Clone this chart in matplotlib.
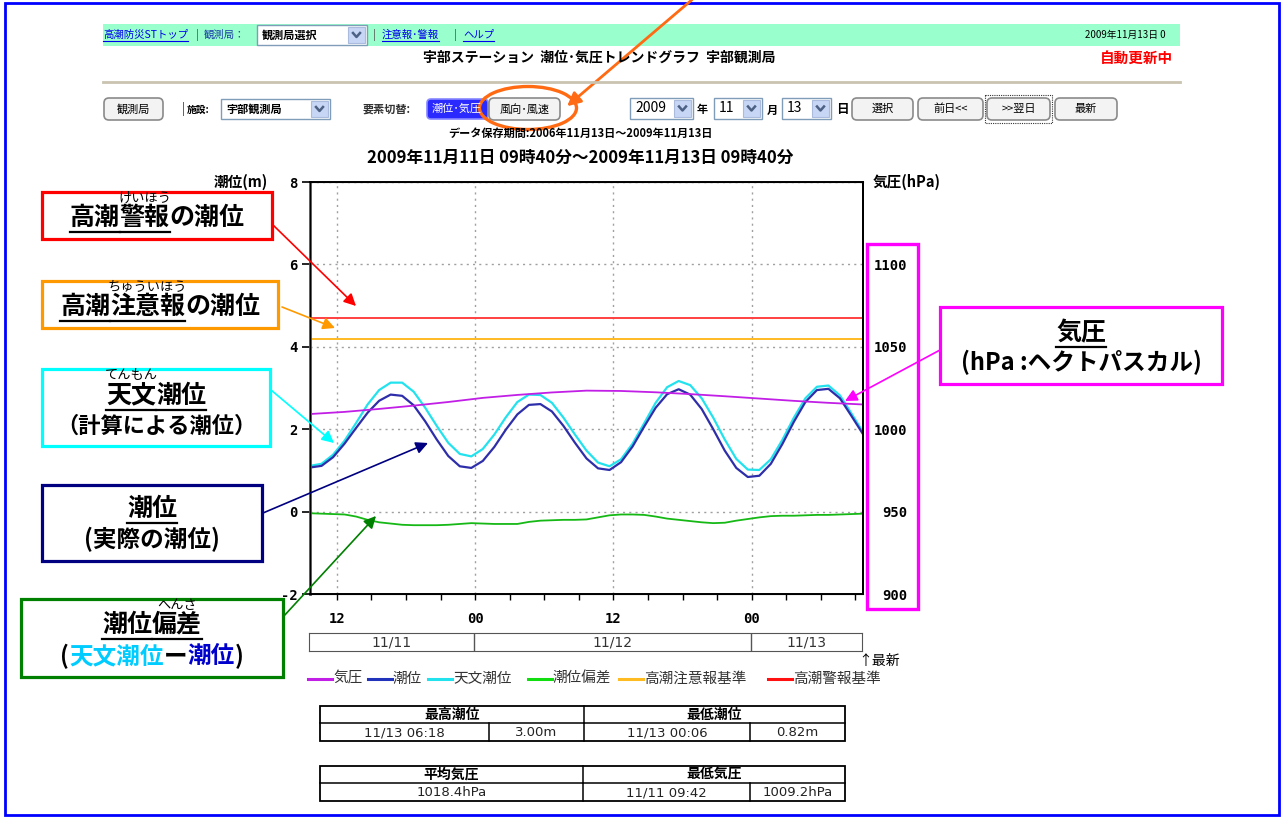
import matplotlib
matplotlib.use('Agg')
import matplotlib.pyplot as plt
import matplotlib.dates as mdates
import pandas as pd
from matplotlib.patches import Rectangle, FancyBboxPatch, Ellipse, FancyArrowPatch

plt.rcParams['font.family'] = ['Noto Sans CJK JP', 'DejaVu Sans']
plt.rcParams['axes.unicode_minus'] = False

W, H = 1282, 818

# ── Donnees ──────────────────────────────────────────────────
start = pd.Timestamp('2009-11-11 09:40')
end   = pd.Timestamp('2009-11-13 09:40')
times = pd.date_range(start, end, freq='h')          # pas horaire

tide = [1.07, 1.11, 1.32, 1.65, 2.03, 2.40, 2.69, 2.84, 2.81, 2.58,
        2.19, 1.75, 1.35, 1.10, 1.06, 1.23, 1.57, 1.99, 2.36, 2.59,
        2.61, 2.43, 2.08, 1.67, 1.29, 1.05, 1.01, 1.20, 1.58, 2.06,
        2.52, 2.85, 2.97, 2.84, 2.49, 2.00, 1.48, 1.06, 0.84, 0.87,
        1.16, 1.64, 2.18, 2.66, 2.95, 2.98, 2.75, 2.32, 1.88]
astro = [1.11, 1.16, 1.38, 1.72, 2.15, 2.60, 2.95, 3.13, 3.13, 2.91,
         2.52, 2.08, 1.67, 1.40, 1.34, 1.52, 1.87, 2.29, 2.66, 2.84,
         2.83, 2.64, 2.28, 1.87, 1.48, 1.19, 1.10, 1.27, 1.65, 2.14,
         2.64, 3.02, 3.17, 3.07, 2.75, 2.28, 1.75, 1.28, 1.02, 1.01,
         1.27, 1.74, 2.28, 2.75, 3.03, 3.06, 2.82, 2.38, 1.93]
deviation = [-0.04, -0.05, -0.06, -0.07, -0.12, -0.20, -0.26, -0.29, -0.32, -0.33,
             -0.33, -0.33, -0.32, -0.30, -0.28, -0.29, -0.30, -0.30, -0.30, -0.25,
             -0.22, -0.21, -0.20, -0.20, -0.19, -0.14, -0.09, -0.07, -0.07, -0.08,
             -0.12, -0.17, -0.20, -0.23, -0.26, -0.28, -0.27, -0.22, -0.18, -0.14,
             -0.11, -0.10, -0.10, -0.09, -0.08, -0.08, -0.07, -0.06, -0.05]

p_times  = pd.date_range(start, end, freq='3h')
pressure = [1009.2, 1010.5, 1012.3, 1014.3, 1016.5, 1019.0, 1020.8, 1022.3, 1023.4,
            1023.2, 1022.4, 1021.3, 1020.0, 1018.6, 1017.2, 1016.0, 1015.0]

warning_level  = 4.7
advisory_level = 4.2

day_labels = ['11/11', '11/12', '11/13']
day_edges  = [start, pd.Timestamp('2009-11-12'), pd.Timestamp('2009-11-13'), end]

legend_labels = ['気圧', '潮位', '天文潮位', '潮位偏差', '高潮注意報基準', '高潮警報基準']

stats_head1 = ['最高潮位', '最低潮位']
stats_row1  = ['11/13 06:18', '3.00m', '11/13 00:06', '0.82m']
stats_head2 = ['平均気圧', '最低気圧']
stats_row2  = ['1018.4hPa', '11/11 09:42', '1009.2hPa']

C_PRES, C_TIDE, C_ASTRO, C_DEV = '#c21fe6', '#2e2eaa', '#22e2ee', '#16b816'
C_ADV, C_WARN = '#ffbb22', '#ff4040'


def fx(x):  return x / W
def fy(y):  return 1 - y / H


fig = plt.figure(figsize=(W / 100, H / 100), dpi=100)

# ── Graphique principal ──────────────────────────────────────
ax = fig.add_axes([fx(310), fy(594), 553 / W, 412 / H])
ax.plot(times, deviation, color=C_DEV, lw=1.3)
ax.plot(times, astro, color=C_ASTRO, lw=1.6)
ax.plot(times, tide, color=C_TIDE, lw=1.6)
ax.axhline(warning_level, color=C_WARN, lw=1.4)
ax.axhline(advisory_level, color=C_ADV, lw=1.4)

ax.set_xlim(start, end)
ax.set_ylim(-2, 8)
ax.set_yticks(range(-2, 9, 2))
ax.xaxis.set_major_locator(mdates.HourLocator(byhour=[0, 12]))
ax.xaxis.set_major_formatter(mdates.DateFormatter('%H'))
ax.xaxis.set_minor_locator(mdates.HourLocator(byhour=range(0, 24, 3)))
ax.grid(True, color='#a0a0a0', ls=(0, (1.5, 3)), lw=1)
ax.tick_params(axis='y', direction='out', length=6, width=1.2, pad=3, labelsize=10)
ax.tick_params(axis='x', which='both', direction='out', length=4, width=1, pad=9, labelsize=10)
for lab in ax.get_xticklabels() + ax.get_yticklabels():
    lab.set_fontfamily('DejaVu Sans Mono')
    lab.set_fontweight('bold')
for s in ['top', 'right', 'bottom']:
    ax.spines[s].set_linewidth(1.4)
ax.spines['left'].set_color('#555555')
ax.spines['left'].set_linewidth(2)

ax2 = ax.twinx()
ax2.plot(p_times, pressure, color=C_PRES, lw=1.3)
ax2.set_ylim(900, 1150)
ax2.set_yticks([900, 950, 1000, 1050, 1100])
ax2.tick_params(axis='y', length=0, pad=32, labelsize=10)
for lab in ax2.get_yticklabels():
    lab.set_ha('right')
    lab.set_fontfamily('DejaVu Sans Mono')
    lab.set_fontweight('bold')
ax2.spines['right'].set_linewidth(1.4)

# ── Barre des dates ──────────────────────────────────────────
dax = fig.add_axes([fx(309), fy(651), 553 / W, 18 / H])
dax.set_xlim(start, end)
dax.set_ylim(0, 1)
dax.set_xticks([])
dax.set_yticks([])
for s in dax.spines.values():
    s.set_color('#555555')
for edge in day_edges[1:-1]:
    dax.axvline(edge, color='#555555', lw=1)
for lab, a, b in zip(day_labels, day_edges[:-1], day_edges[1:]):
    dax.text(a + (b - a) / 2, 0.5, lab, ha='center', va='center',
             fontsize=10, family='DejaVu Sans', color='#333333')

# ── Calque en pixels pour la page web ────────────────────────
ov = fig.add_axes([0, 0, 1, 1])
ov.set_xlim(0, W)
ov.set_ylim(H, 0)
ov.axis('off')
ov.set_zorder(10)
ov.patch.set_visible(False)
renderer = fig.canvas.get_renderer()


def twidth(s, **kw):
    t = ov.text(0, 0, s, **kw)
    w = t.get_window_extent(renderer).width
    t.remove()
    return w


def label(x, y, s, size=8, color='black', weight='normal', ha='left', underline=False, **kw):
    ov.text(x, y, s, fontsize=size, color=color, fontweight=weight, ha=ha, va='center', **kw)
    if underline:
        w = twidth(s, fontsize=size, fontweight=weight, **kw)
        x0 = x - w / 2 if ha == 'center' else x
        ov.plot([x0, x0 + w], [y + size * 0.75, y + size * 0.75], color=color, lw=0.8)


def rich(cx, cy, parts, size):
    # parts : (texte, couleur, souligne, ruby)
    widths = [twidth(p[0], fontsize=size, fontweight='bold') for p in parts]
    x = cx - sum(widths) / 2
    em = size * 100 / 72
    for (s, col, ul, ruby), w in zip(parts, widths):
        ov.text(x, cy, s, fontsize=size, fontweight='bold', color=col, ha='left', va='center')
        if ul:
            ov.plot([x, x + w], [cy + 0.56 * em] * 2, color='black', lw=1.6)
        if ruby:
            ov.text(x + w / 2, cy - 0.8 * em, ruby, fontsize=9.5, ha='center', va='center')
        x += w


def button(x0, x1, y0, y1, s, dotted=False):
    ov.add_patch(FancyBboxPatch((x0, y0), x1 - x0, y1 - y0,
                                boxstyle='round,pad=0,rounding_size=5',
                                fc='#f3f3f3', ec='#8a8a8a', lw=1.2))
    if dotted:
        ov.add_patch(Rectangle((x0 - 2, y0 - 3), x1 - x0 + 4, y1 - y0 + 6,
                               fill=False, ec='#333333', lw=0.8, ls=(0, (1, 1))))
    label((x0 + x1) / 2, (y0 + y1) / 2, s, size=8, ha='center')


def dropdown(x0, x1, y0, y1, s, size=8, weight='bold'):
    ov.add_patch(Rectangle((x0, y0), x1 - x0, y1 - y0, fc='white', ec='#7f9db9', lw=1))
    ov.add_patch(Rectangle((x1 - 19, y0 + 2), 17, y1 - y0 - 4, fc='#c6d6f4', ec='#aabbdd', lw=0.8))
    cx, cy = x1 - 10.5, (y0 + y1) / 2
    ov.plot([cx - 3.5, cx, cx + 3.5], [cy - 2, cy + 2, cy - 2], color='#4d6185', lw=1.8)
    label(x0 + 5, cy, s, size=size, weight=weight)


# cadre bleu
ov.add_patch(Rectangle((5, 3), 1274, 812, fill=False, ec='#0000ff', lw=2))

# bandeau vert
ov.add_patch(Rectangle((103, 24), 1077, 22, fc='#99ffcc', ec='none'))
label(103, 35, '高潮防災STトップ', size=7.5, color='#0000ee', underline=True)
label(196, 35, '|', size=8, color='#555555')
label(204, 35, '観測局：', size=7.5, color='#1a3fa8')
dropdown(257, 367, 25, 45, '観測局選択')
label(373, 35, '|', size=8, color='#555555')
label(382, 35, '注意報･警報', size=7.5, color='#0000ee', underline=True)
label(454, 35, '|', size=8, color='#555555')
label(463, 35, 'ヘルプ', size=7.5, color='#0000ee', underline=True)
label(1085, 35, '2009年11月13日 0', size=7)

label(599, 58, '宇部ステーション  潮位･気圧トレンドグラフ  宇部観測局', size=10, weight='bold', ha='center')
label(1136, 58, '自動更新中', size=10.5, weight='bold', color='#ff0000', ha='center')
ov.plot([103, 1180], [82, 82], color='#c9c3b0', lw=2)

# barre de commandes
button(104, 163, 98, 120, '観測局')
label(182, 109, '|', size=9, color='#333333')
label(187, 110, '施設:', size=7, weight='bold')
dropdown(221, 330, 99, 119, '宇部観測局')
label(363, 109, '要素切替:', size=8, weight='bold', color='#333333')
ov.add_patch(FancyBboxPatch((427, 99), 61, 20, boxstyle='round,pad=0,rounding_size=4',
                            fc='#2a2aff', ec='#8888ff', lw=1.2))
label(457, 109, '潮位･気圧', size=8, color='white', ha='center')
button(489, 560, 98, 120, '風向･風速')
ov.add_patch(Ellipse((528, 108), 97, 43, fill=False, ec='#ff6a13', lw=2.4))
ov.add_patch(FancyArrowPatch((694, -2), (565, 108), arrowstyle='-|>', mutation_scale=20,
                             color='#ff6a13', lw=2))

dropdown(630, 693, 98, 119, '2009', size=10, weight='normal')
label(697, 110, '年', size=8, weight='bold')
dropdown(714, 762, 98, 119, '11', size=10, weight='normal')
label(767, 110, '月', size=8, weight='bold')
dropdown(782, 831, 98, 119, '13', size=10, weight='normal')
label(836, 110, '日', size=9, weight='bold')
button(852, 913, 98, 120, '選択')
button(918, 983, 98, 120, '前日<<')
button(987, 1050, 98, 120, '>>翌日', dotted=True)
button(1055, 1117, 98, 120, '最新')

label(580, 133, 'データ保存期間:2006年11月13日～2009年11月13日', size=8, weight='bold', ha='center')
label(580, 158, '2009年11月11日 09時40分～2009年11月13日 09時40分', size=12, weight='bold', ha='center')

# titres d'axes
label(268, 182, '潮位(m)', size=10.5, weight='bold', ha='right')
label(873, 182, '気圧(hPa)', size=10.5, weight='bold')
ov.add_patch(Rectangle((867, 244), 51, 365, fill=False, ec='#ff00ff', lw=2.4))

# ── Encadres explicatifs ─────────────────────────────────────
def box(x0, y0, x1, y1, color):
    ov.add_patch(Rectangle((x0, y0), x1 - x0, y1 - y0, fill=False, ec=color, lw=2.3))


def arrow(p0, p1, color):
    ov.add_patch(FancyArrowPatch(p0, p1, arrowstyle='-|>', mutation_scale=18,
                                 color=color, lw=1.2, shrinkA=0, shrinkB=0))


box(42, 192, 272, 239, '#ff0000')
rich(157, 218, [('高潮', 'black', True, None), ('警報', 'black', True, 'けいほう'),
                ('の潮位', 'black', False, None)], 18)
arrow((272, 224), (356, 306), '#ff0000')

box(42, 281, 278, 328, '#ff9900')
rich(160, 307, [('高潮', 'black', True, None), ('注意報', 'black', True, 'ちゅういほう'),
                ('の潮位', 'black', False, None)], 18)
arrow((282, 307), (335, 328), '#ff9900')

box(42, 369, 270, 446, '#00ffff')
rich(156, 396, [('天文', 'black', True, 'てんもん'), ('潮位', 'black', True, None)], 18)
rich(156, 426, [('（計算による潮位）', 'black', False, None)], 16)
arrow((271, 390), (334, 443), '#00ffff')

box(42, 485, 262, 561, '#000080')
rich(152, 509, [('潮位', 'black', True, None)], 18)
rich(152, 539, [('(実際の潮位)', 'black', False, None)], 17)
arrow((263, 513), (428, 443), '#000080')

box(21, 599, 283, 677, '#008000')
rich(152, 625, [('潮位', 'black', True, None), ('偏差', 'black', True, 'へんさ')], 18)
rich(152, 656, [('(', 'black', False, None), ('天文潮位', '#00ccff', False, None),
                ('ー', 'black', False, None), ('潮位', '#0000cc', False, None),
                (')', 'black', False, None)], 17)
arrow((283, 617), (376, 516), '#008000')

box(940, 307, 1222, 384, '#ff00ff')
rich(1081, 333, [('気圧', 'black', True, None)], 18)
rich(1081, 362, [('(hPa :ヘクトパスカル)', 'black', False, None)], 17)
arrow((940, 350), (845, 401), '#ff00ff')

# ── Legende ──────────────────────────────────────────────────
label(858, 661, '↑最新', size=10)
leg_x = [308, 368, 428, 528, 619, 768]
leg_c = [C_PRES, '#2233bb', C_ASTRO, '#11dd11', C_ADV, '#ff1111']
for x, c, lab in zip(leg_x, leg_c, legend_labels):
    ov.plot([x, x + 24], [679, 679], color=c, lw=2.2)
    label(x + 25, 679, lab, size=10.5, color='#333333')

# ── Tableaux de synthese ─────────────────────────────────────
def table(y0, heads, head_x, cells, cell_x):
    y1, y2 = y0 + 17, y0 + 35
    ov.add_patch(Rectangle((320, y0), 525, y2 - y0, fill=False, ec='black', lw=1.3))
    ov.plot([320, 845], [y1, y1], color='black', lw=1.1)
    for xs in head_x[1:-1]:
        ov.plot([xs, xs], [y0, y1], color='black', lw=1.1)
    for xs in cell_x[1:-1]:
        ov.plot([xs, xs], [y1, y2], color='black', lw=1.1)
    for h, a, b in zip(heads, head_x[:-1], head_x[1:]):
        label((a + b) / 2, (y0 + y1) / 2, h, size=10, weight='bold', ha='center')
    for c, a, b in zip(cells, cell_x[:-1], cell_x[1:]):
        label((a + b) / 2, (y1 + y2) / 2 + 1, c, size=9.5, ha='center',
              family='DejaVu Sans', color='#222222')


table(706, stats_head1, [320, 584, 845], stats_row1, [320, 489, 584, 750, 845])
table(766, stats_head2, [320, 583, 845], stats_row2, [320, 583, 750, 845])

fig.savefig('out.png', dpi=100, facecolor='white')
